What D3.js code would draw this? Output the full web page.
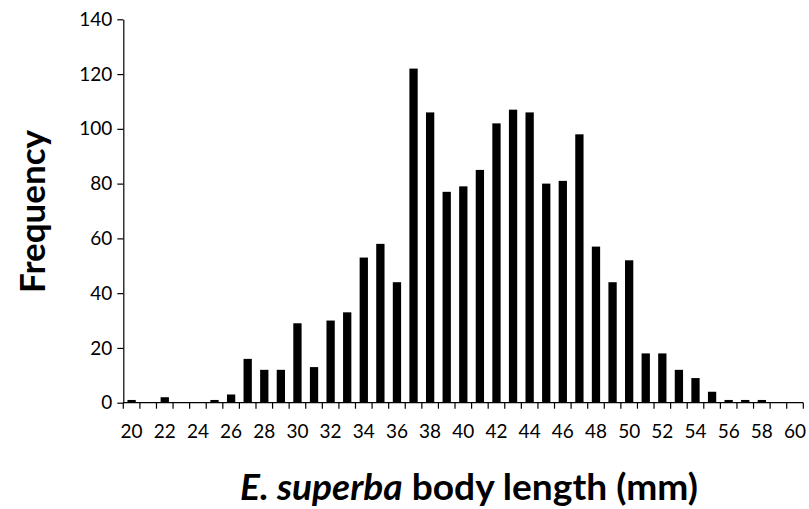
<!DOCTYPE html>
<html>
<head>
<meta charset="utf-8">
<script src="https://cdn.jsdelivr.net/npm/d3@7"></script>
<style>
  html, body { margin: 0; padding: 0; background: #fff; }
  svg { display: block; }
  text { font-family: Lato, "Open Sans", sans-serif; fill: #000; }
</style>
</head>
<body>
<svg id="chart" width="809" height="509"></svg>
<script>
// ---- data ----
const lengths = ["20","21","22","23","24","25","26","27","28","29",
                 "30","31","32","33","34","35","36","37","38","39",
                 "40","41","42","43","44","45","46","47","48","49",
                 "50","51","52","53","54","55","56","57","58","59","60"];
const frequency = [1,0,2,0,0,1,3,16,12,12,
                   29,13,30,33,53,58,44,122,106,77,
                   79,85,102,107,106,80,81,98,57,44,
                   52,18,18,12,9,4,1,1,1,0,0];
const xTickLabels = ["20","22","24","26","28","30","32","34","36","38","40",
                     "42","44","46","48","50","52","54","56","58","60"];
const yTickValues = [0,20,40,60,80,100,120,140];
const yAxisTitle = "Frequency";
const xTitleItalic = "E. superba";
const xTitleRest = " body length (mm)";

// ---- layout ----
const svg = d3.select("#chart");
const plotL = 123.3, plotR = 803.3, plotT = 19.3, plotB = 402.7;

const x = d3.scaleBand().domain(lengths).range([plotL, plotR]).padding(0);
const y = d3.scaleLinear().domain([0, 140]).range([plotB, plotT]);

// bars
svg.append("g").selectAll("rect")
  .data(lengths.map((c, i) => ({c, v: frequency[i]})))
  .join("rect")
  .attr("x", d => x(d.c) + x.bandwidth() * 0.25)
  .attr("width", x.bandwidth() * 0.5)
  .attr("y", d => y(d.v))
  .attr("height", d => y(0) - y(d.v))
  .attr("fill", "#000");

// y axis
const yAxis = svg.append("g")
  .attr("transform", `translate(${plotL},0)`)
  .call(d3.axisLeft(y).tickValues(yTickValues).tickSize(6).tickSizeOuter(0).tickPadding(5));
yAxis.attr("font-family", null).attr("font-size", null);
yAxis.selectAll("text").style("font-size", "19px");
yAxis.selectAll("line, path").attr("stroke", "#000").attr("stroke-width", 1.2);

// x axis: line + boundary ticks
const xg = svg.append("g");
xg.append("line")
  .attr("x1", plotL).attr("x2", plotR)
  .attr("y1", plotB).attr("y2", plotB)
  .attr("stroke", "#000").attr("stroke-width", 1.2);
const bounds = lengths.map(c => x(c)).concat([x(lengths[lengths.length - 1]) + x.bandwidth()]);
xg.selectAll("line.tick").data(bounds).join("line")
  .attr("class", "tick")
  .attr("x1", d => d).attr("x2", d => d)
  .attr("y1", plotB).attr("y2", plotB + 6)
  .attr("stroke", "#000").attr("stroke-width", 1.2);
xg.selectAll("text").data(xTickLabels).join("text")
  .attr("x", d => x(d) + x.bandwidth() / 2)
  .attr("y", 438)
  .attr("text-anchor", "middle")
  .style("font-size", "19px")
  .text(d => d);

// y axis title
const yt = svg.append("text")
  .attr("transform", "translate(45,211.5) rotate(-90)")
  .attr("text-anchor", "middle")
  .style("font-weight", "bold")
  .style("font-size", "38px")
  .text(yAxisTitle);
{
  const w = yt.node().getComputedTextLength();
  yt.style("font-size", (38 * 163 / w).toFixed(2) + "px");
}

// x axis title
const xt = svg.append("text")
  .attr("x", 469).attr("y", 500)
  .attr("text-anchor", "middle")
  .style("font-weight", "bold")
  .style("font-size", "38px");
xt.append("tspan").style("font-style", "italic").text(xTitleItalic);
xt.append("tspan").text(xTitleRest);
{
  const w = xt.node().getComputedTextLength();
  xt.style("font-size", (38 * 458 / w).toFixed(2) + "px");
}
</script>
</body>
</html>
